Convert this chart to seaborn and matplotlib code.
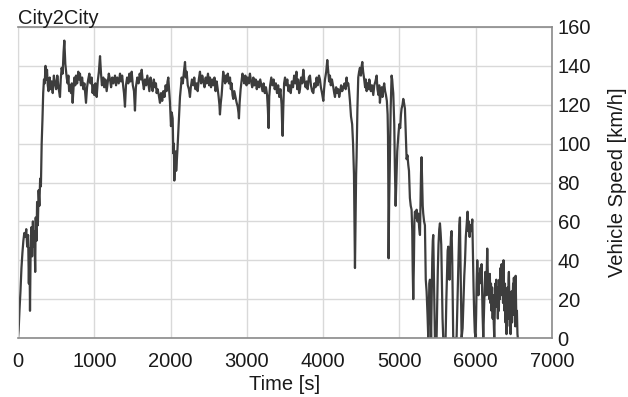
import pandas as pd
import matplotlib
matplotlib.use("Agg")
import matplotlib.pyplot as plt
import seaborn as sns

# (time [s], speed [km/h]), per part of the trip
ramp_up = [
    (0, 0), (8, 4), (20, 15), (32, 24), (45, 36), (58, 44), (70, 50), (82, 54), (95, 52),
    (108, 56), (120, 47), (132, 53), (142, 28), (150, 46), (157, 14), (165, 44), (175, 57),
    (185, 42), (195, 60), (205, 47), (215, 55), (225, 34), (232, 62), (242, 50), (250, 70),
    (260, 58), (270, 76), (280, 68), (290, 82), (300, 78), (310, 100), (320, 112), (330, 126),
    (340, 133), (350, 131), (360, 140), (370, 133), (380, 138), (390, 130),
]

motorway_1 = [
    (400, 127), (415, 134), (430, 128), (441, 132), (455, 126), (470, 135), (485, 131),
    (500, 128), (515, 135), (530, 129), (550, 124), (560, 133), (572, 139), (585, 136),
    (597, 147), (607, 153), (620, 141), (630, 137), (638, 134), (650, 131), (660, 135),
    (670, 127), (681, 130), (695, 126), (705, 131), (716, 121), (728, 129), (740, 134),
    (750, 130), (760, 135), (775, 131), (790, 137), (800, 133), (812, 136), (825, 130),
    (840, 134), (856, 128), (870, 131), (880, 126), (891, 121), (905, 129), (920, 133),
    (935, 136), (950, 131), (965, 134), (978, 126), (987, 130), (1000, 125), (1015, 131),
    (1031, 124), (1045, 132), (1060, 137), (1075, 145), (1088, 136), (1100, 130), (1118, 134),
    (1130, 129), (1145, 133), (1162, 127), (1175, 131), (1190, 136), (1206, 133), (1220, 129),
    (1235, 134), (1250, 131), (1271, 135), (1285, 130), (1300, 134), (1320, 131), (1337, 136),
    (1350, 132), (1365, 135), (1380, 129), (1389, 126), (1402, 119), (1415, 130), (1430, 134),
    (1446, 131), (1460, 136), (1475, 132), (1490, 137), (1505, 130), (1520, 127), (1533, 117),
    (1545, 129), (1564, 134), (1580, 131), (1595, 136), (1610, 133), (1621, 138), (1635, 132),
    (1650, 128), (1664, 133), (1680, 130), (1695, 135), (1708, 131), (1722, 127), (1737, 134),
    (1752, 130), (1765, 127), (1780, 133), (1795, 129), (1808, 131), (1817, 126), (1830, 128),
    (1845, 125), (1861, 121), (1875, 126), (1890, 122), (1905, 127), (1920, 124), (1935, 130),
    (1948, 127), (1960, 132), (1970, 134), (1982, 127), (1992, 121), (2005, 109), (2015, 116),
    (2027, 113), (2036, 95), (2043, 100), (2049, 81), (2057, 92), (2066, 96), (2073, 86),
    (2080, 90), (2090, 97), (2101, 106), (2112, 115), (2123, 124), (2135, 129), (2145, 134),
]

motorway_2 = [
    (2160, 131), (2175, 137), (2189, 142), (2200, 134), (2211, 137), (2225, 130), (2240, 128),
    (2254, 124), (2265, 129), (2280, 133), (2298, 130), (2310, 134), (2325, 128), (2342, 131),
    (2355, 127), (2370, 133), (2385, 137), (2400, 131), (2415, 135), (2429, 132), (2445, 129),
    (2460, 134), (2473, 131), (2490, 136), (2505, 130), (2516, 134), (2530, 129), (2545, 133),
    (2560, 130), (2575, 134), (2590, 127), (2604, 132), (2618, 128), (2630, 124), (2640, 120),
    (2647, 115), (2658, 121), (2669, 125), (2680, 131), (2690, 137), (2700, 134), (2715, 131),
    (2725, 135), (2735, 132), (2750, 136), (2765, 131), (2779, 134), (2790, 128), (2800, 131),
    (2812, 125), (2822, 123), (2835, 127), (2850, 124), (2866, 121), (2880, 119), (2890, 116),
    (2896, 113), (2905, 121), (2918, 128), (2930, 132), (2942, 136), (2953, 134), (2965, 131),
    (2980, 135), (2995, 130), (3010, 134), (3025, 131), (3040, 136), (3055, 132), (3070, 129),
    (3085, 134), (3100, 130), (3115, 133), (3130, 128), (3145, 132), (3160, 129), (3175, 133),
    (3190, 130), (3205, 127), (3220, 131), (3235, 126), (3250, 129), (3265, 125), (3275, 118),
    (3285, 108), (3293, 124), (3305, 130), (3320, 134), (3335, 130), (3350, 133), (3365, 128),
    (3380, 131), (3395, 126), (3410, 130), (3425, 124), (3440, 128), (3455, 120), (3462, 110),
    (3469, 104), (3477, 118), (3488, 131), (3500, 134), (3515, 130), (3530, 133), (3545, 127),
    (3560, 130), (3575, 126), (3590, 132), (3605, 129), (3620, 135), (3635, 131), (3650, 137),
    (3660, 128), (3672, 133), (3685, 126), (3696, 128), (3710, 134), (3725, 131), (3740, 138),
    (3755, 132), (3770, 129), (3783, 132), (3797, 128), (3812, 134), (3827, 135), (3840, 130),
    (3855, 127), (3871, 126), (3885, 131), (3900, 129), (3914, 134), (3928, 130), (3945, 135),
    (3958, 133), (3970, 129), (3985, 126), (4002, 122), (4012, 128), (4024, 133), (4040, 137),
    (4054, 143), (4065, 138), (4078, 132), (4089, 135), (4100, 130), (4115, 133), (4133, 129),
    (4145, 126), (4155, 124), (4170, 129), (4185, 126), (4198, 128), (4210, 124), (4220, 126),
    (4235, 130), (4250, 127), (4264, 129), (4280, 131), (4295, 128), (4307, 134), (4318, 130),
    (4329, 131), (4340, 127), (4351, 122),
]

motorway_exit = [
    (4365, 114), (4380, 110), (4392, 100), (4404, 84), (4411, 60), (4417, 36), (4425, 60),
    (4432, 84), (4438, 93), (4449, 118), (4460, 134), (4471, 137), (4482, 139), (4495, 135),
    (4505, 140), (4513, 142), (4524, 137), (4535, 134), (4550, 129), (4560, 133), (4570, 127),
    (4583, 131), (4595, 128), (4605, 133), (4613, 131), (4625, 127), (4640, 130), (4657, 125),
    (4670, 130), (4685, 132), (4701, 135), (4712, 128), (4725, 125), (4735, 130), (4744, 121),
    (4755, 126), (4768, 129), (4778, 124), (4788, 128), (4800, 131), (4812, 127), (4823, 125),
    (4835, 122), (4845, 115), (4850, 104), (4854, 80), (4858, 41), (4865, 70), (4875, 92),
    (4885, 118), (4897, 135), (4905, 133), (4912, 129), (4919, 126), (4926, 118), (4932, 110),
    (4940, 88), (4950, 68), (4960, 82), (4971, 96), (4985, 104), (4998, 110), (5010, 108),
    (5020, 115), (5028, 118), (5040, 120), (5050, 123), (5060, 121), (5072, 118), (5080, 108),
    (5087, 100), (5094, 92), (5105, 94), (5116, 89), (5125, 86), (5137, 72), (5148, 68),
    (5159, 66), (5168, 55), (5174, 35), (5181, 20), (5190, 40), (5196, 60), (5203, 65),
    (5214, 62), (5225, 66), (5236, 60), (5247, 64), (5258, 57), (5269, 53), (5276, 70),
    (5283, 85), (5290, 93), (5298, 80), (5305, 68), (5312, 64), (5323, 60), (5334, 58),
    (5345, 30), (5356, 24), (5368, 12),
]

city = [
    (5378, 0), (5385, 15), (5392, 28), (5400, 30), (5408, 12), (5415, 0), (5422, 20), (5430, 40),
    (5437, 50), (5443, 53), (5450, 35), (5457, 15), (5465, 0), (5476, 0), (5487, 0), (5495, 18),
    (5503, 35), (5512, 48), (5522, 56), (5531, 59), (5540, 54), (5548, 48), (5556, 30),
    (5565, 10), (5574, 0), (5590, 0), (5605, 0), (5615, 20), (5625, 35), (5632, 45), (5640, 47),
    (5648, 38), (5656, 30), (5665, 42), (5675, 52), (5684, 55), (5692, 40), (5698, 20),
    (5705, 0), (5727, 0), (5749, 0), (5758, 15), (5766, 28), (5775, 45), (5785, 58), (5793, 62),
    (5800, 40), (5808, 20), (5815, 0), (5828, 5), (5840, 20), (5850, 32), (5860, 40), (5870, 52),
    (5880, 58), (5893, 65), (5902, 55), (5910, 60), (5920, 52), (5930, 58), (5942, 55),
    (5955, 61), (5965, 40), (5972, 25), (5980, 12), (5988, 3), (5998, 0), (6005, 12), (6012, 28),
    (6020, 40), (6028, 30), (6035, 22), (6043, 33), (6050, 28), (6060, 36), (6068, 30),
    (6077, 38), (6083, 25), (6090, 12), (6099, 0), (6108, 14), (6117, 26), (6125, 34), (6133, 22),
    (6142, 30), (6151, 46), (6158, 35), (6165, 22), (6172, 30), (6178, 20), (6185, 33),
    (6192, 18), (6200, 28), (6207, 14), (6215, 26), (6222, 10), (6230, 22), (6236, 8), (6243, 0),
    (6250, 14), (6257, 28), (6263, 18), (6270, 30), (6276, 16), (6283, 26), (6290, 10),
    (6297, 24), (6303, 14), (6310, 30), (6317, 20), (6324, 36), (6330, 26), (6339, 38),
    (6346, 22), (6352, 34), (6358, 18), (6364, 40), (6370, 24), (6377, 14), (6383, 28), (6390, 8),
    (6396, 20), (6403, 2), (6410, 18), (6417, 26), (6423, 10), (6430, 30), (6435, 34), (6441, 18),
    (6447, 6), (6453, 22), (6457, 2), (6463, 14), (6470, 24), (6476, 8), (6483, 20), (6490, 28),
    (6495, 12), (6500, 31), (6507, 16), (6513, 26), (6519, 6), (6523, 32), (6528, 18), (6533, 8),
    (6540, 14), (6547, 2), (6552, 0),
]

x_ticks = [0, 1000, 2000, 3000, 4000, 5000, 6000, 7000]
y_ticks = [0, 20, 40, 60, 80, 100, 120, 140, 160]

df = pd.DataFrame(ramp_up + motorway_1 + motorway_2 + motorway_exit + city,
                  columns=["time", "speed"])

sns.set_style("whitegrid")
plt.rcParams['font.family'] = ['Liberation Sans', 'DejaVu Sans']

fig = plt.figure(figsize=(6.28, 3.97), dpi=100)
ax = fig.add_axes([0.0287, 0.1486, 0.8503, 0.7834])

sns.lineplot(data=df, x="time", y="speed", ax=ax, color="#3d3d3d", linewidth=1.6,
             estimator=None, sort=False)

ax.set_xlim(0, 7000)
ax.set_ylim(0, 160)
ax.set_xticks(x_ticks)
ax.set_yticks(y_ticks)
ax.yaxis.tick_right()
ax.yaxis.set_label_position("right")
ax.tick_params(axis="both", length=0, labelsize=14.5, colors="#1a1a1a")
ax.tick_params(axis="y", pad=4)
ax.tick_params(axis="x", pad=10)
ax.grid(True, color="#d9d9d9", linewidth=1)

for side in ["top", "right", "bottom"]:
    ax.spines[side].set_color("#8a8a8a")
    ax.spines[side].set_linewidth(1.2)
ax.spines["left"].set_color("#d9d9d9")

ax.set_xlabel("Time [s]", fontsize=14.5, color="#1a1a1a", labelpad=3)
ax.set_ylabel("Vehicle Speed [km/h]", fontsize=14.5, color="#1a1a1a", labelpad=12)
ax.set_title("City2City", loc="left", fontsize=14.5, color="#1a1a1a", pad=2)

fig.savefig("out.png", dpi=100)
